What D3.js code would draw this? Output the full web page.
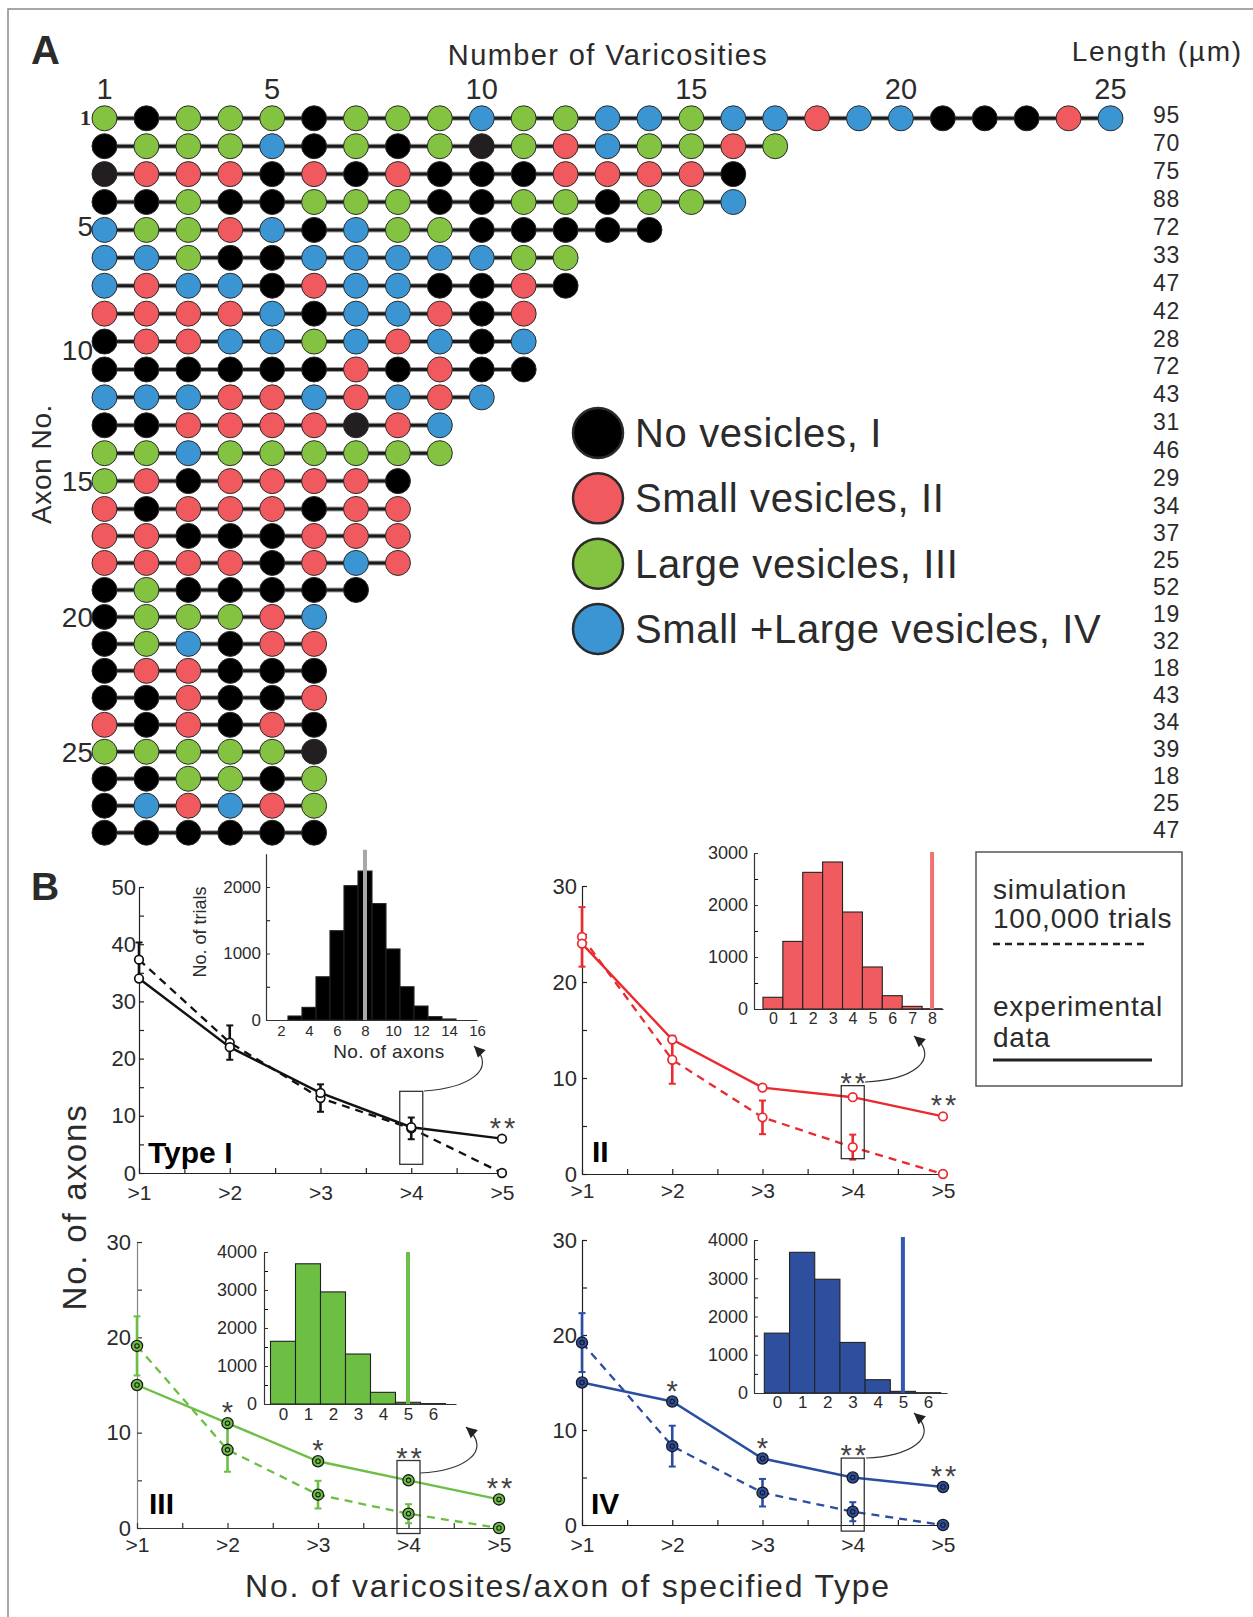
<!DOCTYPE html>
<html><head><meta charset="utf-8">
<script src="https://cdn.jsdelivr.net/npm/d3@7"></script>
<style>
body{margin:0;background:#fff}
svg{display:block}
text{font-family:"Liberation Sans",Arial,Helvetica,sans-serif;fill:#2b2b2b}
</style>
</head><body>
<svg id="c" width="1253" height="1617"></svg>
<script>
// ---------------- DATA ----------------
// Panel A
const varicosityTicks = [1, 5, 10, 15, 20, 25];
const axonTickLabels = ["1", "5", "10", "15", "20", "25"];
const axonTickRows = [1, 4.85, 9.3, 14, 19, 24];
// K = no vesicles (I), D = no vesicles (dark grey print), R = small (II), G = large (III), B = small+large (IV)
const axonRows = [
  "GKGGGKGGGBGGBBGBBRBBKKKRB",
  "KGGGBKGKGDGRBGGRG",
  "DRRRKRKRKKKRRRRK",
  "KKGKKGGGKKGGKGGB",
  "BGGRBKBGGKKKKK",
  "BBGKKBBBBBGG",
  "BRBBKRBBKKRK",
  "RRRRBKBBRKR",
  "KRRBBGBRBKB",
  "KKKKKKRKRKK",
  "BBBRRBRBRB",
  "KKRRRRDRB",
  "GGBGGGGGG",
  "GRKRRRRK",
  "RKRRRKRR",
  "RRKKKRRR",
  "RRRRKRBR",
  "KGKKKKK",
  "KGGGRB",
  "KGBKRR",
  "KRRKKK",
  "KKRKKR",
  "RKRKRK",
  "GGGGGD",
  "KKGGKG",
  "KBRBRG",
  "KKKKKK"
];
const axonLengths = [95,70,75,88,72,33,47,42,28,72,43,31,46,29,34,37,25,52,19,32,18,43,34,39,18,25,47];
const vesicleLegend = ["No vesicles, I", "Small vesicles, II", "Large vesicles, III", "Small +Large vesicles, IV"];
const vesicleCodes = ["K", "R", "G", "B"];

// Panel B
const thresholds = [">1", ">2", ">3", ">4", ">5"];
const expI   = [34, 22, 14, 8, 6];
const simI   = [37.3, 22.8, 13.1, 7.8, 0];
const errI   = [3.0, 3.0, 2.4, 1.9, 0];
const starsI = ["", "", "", "", "**"];
const expII   = [24, 14, 9, 8, 6];
const simII   = [24.7, 11.9, 5.9, 2.8, 0];
const errII   = [3.1, 2.5, 1.75, 1.3, 0];
const starsII = ["", "", "", "**", "**"];
const expIII   = [15, 11, 7, 5, 3];
const simIII   = [19.1, 8.2, 3.5, 1.5, 0];
const errIII   = [3.1, 2.3, 1.45, 1.0, 0];
const starsIII = ["", "*", "*", "**", "**"];
const expIV   = [15, 13, 7, 5, 4];
const simIV   = [19.2, 8.3, 3.4, 1.4, 0];
const errIV   = [3.1, 2.15, 1.45, 1.0, 0];
const starsIV = ["", "*", "*", "**", "**"];

// Inset histograms (No. of trials vs No. of axons)
const histBinsI = [3,4,5,6,7,8,9,10,11,12,13,14];
const histI     = [60,190,650,1343,2020,2240,1750,1068,500,210,50,15];
const histTicksI = [2,4,6,8,10,12,14,16];
const histBinsII = [0,1,2,3,4,5,6,7,8];
const histII     = [225,1300,2628,2827,1865,808,256,51,5];
const histTicksII = [0,1,2,3,4,5,6,7,8];
const histBinsIII = [0,1,2,3,4,5,6];
const histIII     = [1650,3690,2950,1315,307,45,10];
const histBinsIV = [0,1,2,3,4,5,6];
const histIV     = [1565,3678,2974,1322,348,43,8];
const histTicksIIIIV = [0,1,2,3,4,5,6];
const observedI = 8, observedII = 8, observedIII = 5, observedIV = 5;

// ---------------- DRAWING ----------------
const svg = d3.select("#c");
const defs = svg.append("defs");
defs.append("marker").attr("id","ah").attr("viewBox","0 0 10 10")
  .attr("refX",10).attr("refY",5).attr("markerWidth",13).attr("markerHeight",11)
  .attr("markerUnits","userSpaceOnUse").attr("orient","auto")
  .append("path").attr("d","M0,0 L10,5 L0,10 z").attr("fill","#222");

// frame
svg.append("path").attr("d","M8,1617 L8,9 L1253,9").attr("fill","none")
  .attr("stroke","#8a8a8a").attr("stroke-width",1.5);

const colorOf = {K:"#000000", D:"#231f20", R:"#f05a5e", G:"#84c341", B:"#3c95d3"};

// ===== Panel A =====
const colX = d3.scaleLinear().domain([1,25]).range([104.5,1110.5]);
const rowY = d3.scaleLinear().domain([1,15,27]).range([118.3,509,832.7]);
const gA = svg.append("g");

gA.append("text").attr("x",31).attr("y",64).attr("font-size",40).attr("font-weight","bold").text("A");
gA.append("text").attr("x",608).attr("y",65).attr("font-size",29).attr("letter-spacing",1.4)
  .attr("text-anchor","middle").text("Number of Varicosities");
gA.append("text").attr("x",1243).attr("y",61).attr("font-size",28).attr("letter-spacing",1.8)
  .attr("text-anchor","end").text("Length (µm)");
gA.selectAll(".vt").data(varicosityTicks).join("text").attr("class","vt")
  .attr("x",d=>colX(d)).attr("y",99).attr("font-size",29).attr("text-anchor","middle").text(d=>d);

axonRows.forEach((row,i)=>{
  const codes = row.split("");
  const yy = rowY(i+1);
  gA.append("line").attr("x1",colX(1)).attr("x2",colX(codes.length)).attr("y1",yy).attr("y2",yy)
    .attr("stroke","#a0a0a0").attr("stroke-width",5);
  gA.append("line").attr("x1",colX(1)).attr("x2",colX(codes.length)).attr("y1",yy).attr("y2",yy)
    .attr("stroke","#1a1a1a").attr("stroke-width",3);
  gA.selectAll(null).data(codes).join("circle")
    .attr("cx",(d,j)=>colX(j+1)).attr("cy",yy).attr("r",12.5)
    .attr("fill",d=>colorOf[d]).attr("stroke","#2a2a2a").attr("stroke-width",1);
});

gA.selectAll(".len").data(axonLengths).join("text").attr("class","len")
  .attr("x",1153).attr("y",(d,i)=>rowY(i+1)+5).attr("font-size",23).attr("letter-spacing",0.6).text(d=>d);

gA.selectAll(".at").data(axonTickLabels).join("text").attr("class","at")
  .attr("x",(d,i)=> i===0 ? 91 : 93)
  .attr("y",(d,i)=>rowY(axonTickRows[i]) + (i===0 ? 7 : 10))
  .attr("text-anchor","end")
  .attr("font-size",(d,i)=> i===0 ? 22 : 28)
  .attr("font-weight",(d,i)=> i===0 ? "bold" : "normal")
  .style("font-family",(d,i)=> i===0 ? '"Liberation Serif","Times New Roman",serif' : null)
  .text(d=>d);

gA.append("text").attr("transform","translate(51,464) rotate(-90)").attr("text-anchor","middle")
  .attr("font-size",28).attr("letter-spacing",0.6).text("Axon No.");

// legend
const legY = d3.scalePoint().domain(vesicleLegend).range([433,629]);
gA.selectAll(".lc").data(vesicleLegend).join("circle").attr("class","lc")
  .attr("cx",598).attr("cy",d=>legY(d)).attr("r",25)
  .attr("fill",(d,i)=>colorOf[vesicleCodes[i]]).attr("stroke","#2a2a2a").attr("stroke-width",2.5);
gA.selectAll(".lt").data(vesicleLegend).join("text").attr("class","lt")
  .attr("x",635).attr("y",d=>legY(d)+14).attr("font-size",40).attr("letter-spacing",0.65).text(d=>d);

// ===== Panel B =====
svg.append("text").attr("x",31).attr("y",900).attr("font-size",39).attr("font-weight","bold").text("B");
svg.append("text").attr("transform","translate(86,1207) rotate(-90)").attr("text-anchor","middle")
  .attr("font-size",33).attr("letter-spacing",1.8).text("No. of axons");
svg.append("text").attr("x",568).attr("y",1597).attr("text-anchor","middle")
  .attr("font-size",32).attr("letter-spacing",1.8).text("No. of varicosites/axon of specified Type");

// legend box
const lg = svg.append("g");
lg.append("rect").attr("x",976).attr("y",852).attr("width",206).attr("height",234)
  .attr("fill","none").attr("stroke","#555").attr("stroke-width",1.5);
[["simulation",899],["100,000 trials",928],["experimental",1016],["data",1047]].forEach(t=>{
  lg.append("text").attr("x",993).attr("y",t[1]).attr("font-size",28).attr("letter-spacing",0.8).text(t[0]);
});
lg.append("line").attr("x1",993).attr("x2",1148).attr("y1",944).attr("y2",944)
  .attr("stroke","#222").attr("stroke-width",2.5).attr("stroke-dasharray","7,5");
lg.append("line").attr("x1",993).attr("x2",1152).attr("y1",1060).attr("y2",1060)
  .attr("stroke","#222").attr("stroke-width",3);

const intFmt = d3.format("d");

function drawPanel(p){
  const g = svg.append("g");
  const x = d3.scalePoint().domain(thresholds).range(p.xr);
  const xm = d3.scaleLinear().domain([0,4]).range(p.xr);
  const y = d3.scaleLinear().domain([0,p.ymax]).range(p.yr);

  // axes
  g.append("g").attr("transform",`translate(${p.xr[0]},0)`)
    .call(d3.axisLeft(y).tickValues(d3.range(5,p.ymax,10)).tickSize(-5).tickFormat(()=>""))
    .call(a=>a.select(".domain").remove());
  const ya = g.append("g").attr("transform",`translate(${p.xr[0]},0)`)
    .call(d3.axisLeft(y).tickValues(d3.range(0,p.ymax+1,10)).tickSize(-5).tickSizeOuter(0).tickPadding(p.yPad).tickFormat(intFmt));
  ya.selectAll("text").attr("font-size",22);
  g.append("g").attr("transform",`translate(0,${p.yr[0]})`)
    .call(d3.axisBottom(xm).tickValues([0.5,1.5,2.5,3.5]).tickSize(-5).tickFormat(()=>""))
    .call(a=>a.select(".domain").remove());
  const xa = g.append("g").attr("transform",`translate(0,${p.yr[0]})`)
    .call(d3.axisBottom(x).tickSize(-5).tickSizeOuter(0).tickPadding(p.xPad));
  xa.selectAll("text").attr("font-size",21);
  g.selectAll(".domain, .tick line").attr("stroke",p.axisColor).attr("stroke-width",1.2);
  ya.select(".domain").attr("stroke",p.yAxisColor || p.axisColor);

  // lines
  const line = d3.line().x((d,i)=>x(thresholds[i])).y(d=>y(d));
  g.append("path").attr("d",line(p.sim)).attr("fill","none").attr("stroke",p.color)
    .attr("stroke-width",2.3).attr("stroke-dasharray","8,6");
  g.append("path").attr("d",line(p.exp)).attr("fill","none").attr("stroke",p.color)
    .attr("stroke-width",2.4);

  // error bars
  const eb = g.append("g").attr("stroke",p.errColor || p.color).attr("stroke-width",2.6).attr("fill","none");
  p.err.forEach((e,i)=>{
    if(e<=0) return;
    const cx = x(thresholds[i]);
    eb.append("line").attr("x1",cx).attr("x2",cx).attr("y1",y(p.sim[i]-e)).attr("y2",y(p.sim[i]+e));
    eb.append("line").attr("x1",cx-3.5).attr("x2",cx+3.5).attr("y1",y(p.sim[i]-e)).attr("y2",y(p.sim[i]-e)).attr("stroke-width",2);
    eb.append("line").attr("x1",cx-3.5).attr("x2",cx+3.5).attr("y1",y(p.sim[i]+e)).attr("y2",y(p.sim[i]+e)).attr("stroke-width",2);
  });

  // markers
  [p.sim, p.exp].forEach(vals=>{
    if(p.marker==="open"){
      g.selectAll(null).data(vals).join("circle")
        .attr("cx",(d,i)=>x(thresholds[i])).attr("cy",d=>y(d)).attr("r",4.3)
        .attr("fill","#fff").attr("stroke",p.color).attr("stroke-width",1.7);
    } else {
      g.selectAll(null).data(vals).join("circle")
        .attr("cx",(d,i)=>x(thresholds[i])).attr("cy",d=>y(d)).attr("r",5.6)
        .attr("fill",p.color).attr("stroke","#1a1a1a").attr("stroke-width",1.3);
      g.selectAll(null).data(vals).join("circle")
        .attr("cx",(d,i)=>x(thresholds[i])).attr("cy",d=>y(d)).attr("r",2.2)
        .attr("fill","none").attr("stroke","#1a1a1a").attr("stroke-width",1.1);
    }
  });

  // highlight box around >4
  const bx = x(">4"), bcy = (y(p.exp[3]) + y(p.sim[3]))/2;
  const boxTop = bcy - 36.5;
  g.append("rect").attr("x",bx-11.5).attr("y",boxTop).attr("width",23).attr("height",73)
    .attr("fill","none").attr("stroke","#333").attr("stroke-width",1.3);

  // stars
  const starData = p.stars.map((s,i)=>({s, i})).filter(d=>d.s !== "");
  g.selectAll(".st").data(starData).join("text").attr("class","st")
    .attr("x",d=>x(thresholds[d.i]) + (d.s.length>1 ? 2 : 0))
    .attr("y",d=> (d.i===3 ? boxTop - 9 : y(p.exp[d.i]) - 17) + 16)
    .attr("text-anchor","middle").attr("font-size",29).attr("letter-spacing", d=>d.s.length>1 ? 3 : 0)
    .style("fill","#444").text(d=>d.s);

  // arrow
  g.append("path").attr("d",p.arrow).attr("fill","none").attr("stroke","#333")
    .attr("stroke-width",1.2).attr("marker-end","url(#ah)");

  // type label
  g.append("text").attr("x",p.labelPos[0]).attr("y",p.labelPos[1]).attr("font-size",30)
    .attr("font-weight","bold").style("fill","#000").text(p.label);

  // inset histogram
  const xh = d3.scaleLinear().domain(p.hxd).range(p.hxr);
  const yh = d3.scaleLinear().domain([0,p.hymax]).range(p.hyr);
  g.selectAll(null).data(p.hist).join("rect")
    .attr("x",(d,i)=>xh(p.bins[i]-0.5)).attr("width",(d,i)=>xh(p.bins[i]+0.5)-xh(p.bins[i]-0.5))
    .attr("y",d=>yh(d)).attr("height",d=>yh(0)-yh(d))
    .attr("fill",p.histColor).attr("stroke","#222").attr("stroke-width",1.1);
  g.append("line").attr("x1",xh(p.observed)).attr("x2",xh(p.observed))
    .attr("y1",yh(0)).attr("y2",yh(p.obsTop))
    .attr("stroke",p.obsColor).attr("stroke-width",4);
  g.append("g").attr("transform",`translate(${p.hxr[0]},0)`)
    .call(d3.axisLeft(yh).tickValues(d3.range(500,p.hymax,1000)).tickSize(-4).tickFormat(()=>""))
    .call(a=>a.select(".domain").remove());
  const hya = g.append("g").attr("transform",`translate(${p.hxr[0]},0)`)
    .call(d3.axisLeft(yh).tickValues(d3.range(0,p.hymax+1,1000)).tickSize(-4).tickSizeOuter(0).tickPadding(p.hyPad).tickFormat(intFmt));
  hya.selectAll("text").attr("font-size",p.hyFont);
  const hxa = g.append("g").attr("transform",`translate(0,${p.hyr[0]})`)
    .call(d3.axisBottom(xh).tickValues(p.hticks).tickSize(0).tickSizeOuter(0).tickPadding(p.hxPad).tickFormat(intFmt));
  hxa.selectAll("text").attr("font-size",p.hxFont);
  g.selectAll(".domain").attr("stroke-width",1.2);
  hya.selectAll(".domain, .tick line").attr("stroke","#333");
  hxa.select(".domain").attr("stroke","#333");
  return g;
}

const gI = drawPanel({
  exp:expI, sim:simI, err:errI, stars:starsI, color:"#111", marker:"open", axisColor:"#222",
  xr:[139,502], yr:[1173,887], ymax:50, yPad:3, xPad:12,
  arrow:"M424,1091 C468,1088 498,1070 474,1046",
  label:"Type I", labelPos:[148,1163],
  bins:histBinsI, hist:histI, hticks:histTicksI, hxd:[0.93,16], hxr:[266,477],
  hymax:2500, hyr:[1020,853.75], histColor:"#000", observed:observedI, obsTop:2560, obsColor:"#a8a8a8",
  hyPad:5, hxPad:5, hyFont:17, hxFont:15
});
gI.append("text").attr("transform","translate(206,932) rotate(-90)").attr("text-anchor","middle")
  .attr("font-size",18).text("No. of trials");
gI.append("text").attr("x",389).attr("y",1058).attr("text-anchor","middle")
  .attr("font-size",19).attr("letter-spacing",0.4).text("No. of axons");

drawPanel({
  exp:expII, sim:simII, err:errII, stars:starsII, color:"#ea2a2f", marker:"open", axisColor:"#222",
  xr:[582,943], yr:[1174,886], ymax:30, yPad:5, xPad:9,
  arrow:"M865,1082 C912,1080 942,1060 914,1036",
  label:"II", labelPos:[592,1162],
  bins:histBinsII, hist:histII, hticks:histTicksII, hxd:[-0.95,8.55], hxr:[754,943],
  hymax:3000, hyr:[1009,853], histColor:"#ef5b5e", observed:observedII, obsTop:3020, obsColor:"#f07272",
  hyPad:6, hxPad:4, hyFont:18, hxFont:16
});

drawPanel({
  exp:expIII, sim:simIII, err:errIII, stars:starsIII, color:"#6cbe45", marker:"target", axisColor:"#333", yAxisColor:"#858585",
  xr:[137,499], yr:[1528,1242], ymax:30, yPad:6, xPad:9,
  arrow:"M420,1473 C462,1471 495,1452 466,1427",
  label:"III", labelPos:[149,1514],
  bins:histBinsIII, hist:histIII, hticks:histTicksIIIIV, hxd:[-0.76,6.92], hxr:[264,456],
  hymax:4000, hyr:[1404,1252], histColor:"#6dbf44", observed:observedIII, obsTop:4000, obsColor:"#6cc04a",
  hyPad:7, hxPad:4, hyFont:18, hxFont:17
});

drawPanel({
  exp:expIV, sim:simIV, err:errIV, stars:starsIV, color:"#2b4ea3", marker:"target", axisColor:"#222",
  xr:[582,943], yr:[1525,1240], ymax:30, yPad:5, xPad:12,
  arrow:"M866,1458 C908,1457 942,1438 914,1413",
  label:"IV", labelPos:[591,1514],
  bins:histBinsIV, hist:histIV, hticks:histTicksIIIIV, hxd:[-0.91,6.75], hxr:[754,947],
  hymax:4000, hyr:[1393,1240], histColor:"#2d4f9e", observed:observedIV, obsTop:4080, obsColor:"#3358b0",
  hyPad:6, hxPad:3, hyFont:18, hxFont:17
});
</script>
</body></html>
